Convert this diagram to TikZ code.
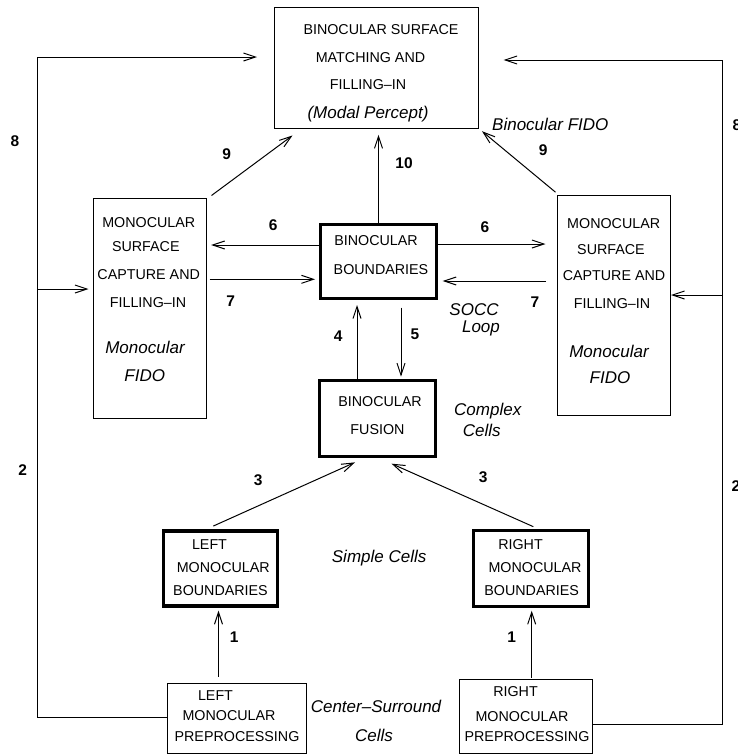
\documentclass[tikz,border=0pt]{standalone}
\usepackage{fontspec}
\setmainfont{Liberation Sans}
\usetikzlibrary{arrows.meta,calc}
\begin{document}
\begin{tikzpicture}[x=1pt,y=-1pt,
  thinbox/.style={draw,line width=1pt,inner sep=0pt},
  thickbox/.style={draw,line width=3.3pt,inner sep=0pt},
  captxt/.style={font=\fontsize{14.3}{16}\selectfont,inner sep=0pt,text height=10.2pt,text depth=0pt},
  itl/.style={font=\fontsize{17}{20}\selectfont\itshape,inner sep=0pt,text height=12.2pt,text depth=0pt},
  num/.style={font=\fontsize{15.5}{18}\selectfont\bfseries,inner sep=0pt,text height=11.1pt,text depth=0pt},
  arr/.style={line width=1pt,-{Straight Barb[length=12pt,width=8pt]}},
  ln/.style={line width=1pt}]
\fill[white] (0,0) rectangle (738,755);
\useasboundingbox (0,0) rectangle (738,755);

% boxes
\node[thinbox,minimum width=204pt,minimum height=121pt] (T) at (376.5,68) {};
\node[thinbox,minimum width=113pt,minimum height=220pt] (LM) at (150,308.5) {};
\node[thinbox,minimum width=113pt,minimum height=220pt] (RM) at (614,305.5) {};
\node[thickbox,minimum width=115.7pt,minimum height=73.7pt] (BB) at (378.5,261.5) {};
\node[thickbox,minimum width=115.7pt,minimum height=75.7pt] (BF) at (377.5,418.5) {};
\node[thickbox,minimum width=114.3pt,minimum height=75.1pt] (LB) at (220.5,568.5) {};
\node[thickbox,minimum width=114.7pt,minimum height=75.7pt] (RB) at (531,568.5) {};
\node[thinbox,minimum width=139.3pt,minimum height=70.3pt] (LP) at (236.8,718.3) {};
\node[thinbox,minimum width=132.7pt,minimum height=74pt] (RP) at (525.8,716.5) {};

% box texts
\node[captxt] (t1) at (381,29.7) {BINOCULAR SURFACE};
\node[captxt] (t2) at (370.5,57.3) {MATCHING AND};
\node[captxt] (t3) at (368,84.7) {FILLING–IN};
\node[itl] (t4) at (368,112) {(Modal Percept)};

\node[captxt] (lm1) at (148.8,222.8) {MONOCULAR};
\node[captxt] (lm2) at (145.8,246.3) {SURFACE};
\node[captxt] (lm3) at (148.7,274.7) {CAPTURE AND};
\node[captxt] (lm4) at (148,302.8) {FILLING–IN};
\node[itl] (lm5) at (145,347.7) {Monocular};
\node[itl] (lm6) at (144.7,375.5) {FIDO};

\node[captxt] (rm1) at (613.7,223.7) {MONOCULAR};
\node[captxt] (rm2) at (611,249.2) {SURFACE};
\node[captxt] (rm3) at (614,275.5) {CAPTURE AND};
\node[captxt] (rm4) at (612,303.8) {FILLING–IN};
\node[itl] (rm5) at (609,351.7) {Monocular};
\node[itl] (rm6) at (610,377.5) {FIDO};

\node[captxt] (bb1) at (376,240.8) {BINOCULAR};
\node[captxt] (bb2) at (381,269.2) {BOUNDARIES};
\node[captxt] (bf1) at (380,401.7) {BINOCULAR};
\node[captxt] (bf2) at (377.5,429) {FUSION};

\node[captxt] (lb1) at (209.5,544.2) {LEFT};
\node[captxt] (lb2) at (223.3,567.2) {MONOCULAR};
\node[captxt] (lb3) at (220.5,590) {BOUNDARIES};
\node[captxt] (rb1) at (520.5,544.2) {RIGHT};
\node[captxt] (rb2) at (535,567.2) {MONOCULAR};
\node[captxt] (rb3) at (531.7,590) {BOUNDARIES};

\node[captxt] (lp1) at (215.5,695) {LEFT};
\node[captxt] (lp2) at (229,715.3) {MONOCULAR};
\node[captxt] (lp3) at (237,736.3) {PREPROCESSING};
\node[captxt] (rp1) at (515.5,691.3) {RIGHT};
\node[captxt] (rp2) at (522,716) {MONOCULAR};
\node[captxt] (rp3) at (527,736) {PREPROCESSING};

% free labels
\node[itl,anchor=west] (binfido) at (492,124.3) {Binocular FIDO};
\node[itl] (socc) at (474,309.5) {SOCC};
\node[itl] (loop) at (481,326) {Loop};
\node[itl,anchor=west] (cx1) at (454,409.2) {Complex};
\node[itl,anchor=west] (cx2) at (462.7,430) {Cells};
\node[itl,anchor=west] (simple) at (331.7,556) {Simple Cells};
\node[itl] (cs1) at (376,706.7) {Center–Surround};
\node[itl] (cs2) at (374,735) {Cells};

% numbers
\node[num] (n8l) at (15,141) {8};
\node[num] (n9l) at (226.7,154.3) {9};
\node[num] (n10) at (404,162.7) {10};
\node[num] (n9r) at (543.3,150) {9};
\node[num,anchor=west] (n8r) at (732.5,125.3) {8};
\node[num] (n6l) at (273.3,225.3) {6};
\node[num] (n7l) at (230.7,300.7) {7};
\node[num] (n4) at (338.3,335.7) {4};
\node[num] (n5) at (415,334) {5};
\node[num] (n6r) at (485,226.7) {6};
\node[num] (n7r) at (535,301.7) {7};
\node[num] (n2l) at (22.7,470) {2};
\node[num] (n3l) at (258.3,480) {3};
\node[num] (n3r) at (483.3,477.3) {3};
\node[num] (n1l) at (234.3,636.7) {1};
\node[num] (n1r) at (511.7,636.7) {1};
\node[num,anchor=west] (n2r) at (731.3,486) {2};

% bus coordinates
\coordinate (topL) at (37.5,57);
\coordinate (busL) at (37.5,289);
\coordinate (topR) at (722.5,60);
\coordinate (busR) at (722.5,295);

% connectors
\draw[arr,shorten >=17pt] (LP.west |- 0,717) -| (topL) -- (T.west |- topL);
\draw[arr,shorten >=4.5pt] (busL) -- (LM.west |- busL);
\draw[arr,shorten >=24.5pt] (RP.east |- 0,724) -| (topR) -- (T.east |- topR);
\draw[arr] (busR) -- (RM.east |- busR);

\draw[arr] ([shift={(4.5,-2.5)}]LM.north east) -- ([shift={(18.5,6.5)}]T.south west);
\draw[arr] ([shift={(-1.5,-2.8)}]RM.north west) -- ([shift={(3,2.2)}]T.south east);
\draw[arr,shorten >=5.8pt] (BB.north) -- (T.south -| BB.north);

\draw[arr,shorten >=4.2pt] (BB.west |- 0,245) -- (LM.east |- 0,245);
\draw[arr,shorten <=2.5pt,shorten >=4pt] (LM.east |- 0,279.3) -- (BB.west |- 0,279.3);
\draw[arr,shorten >=11.5pt] (BB.east |- 0,244) -- (RM.west |- 0,244);
\draw[arr,shorten <=10.8pt,shorten >=4.6pt] (RM.west |- 0,281) -- (BB.east |- 0,281);

\draw[arr,shorten >=5pt] (BF.north -| 357,0) -- (BB.south -| 357,0);
\draw[arr,shorten <=7.6pt,shorten >=2.3pt] (BB.south -| 401,0) -- (BF.north -| 401,0);

\draw[arr] ([shift={(-7.2,-3.25)}]LB.north) -- ([shift={(-22.5,4.35)}]BF.south);
\draw[arr] ([shift={(2.3,-2.35)}]RB.north) -- ([shift={(14,5.65)}]BF.south);

\draw[arr,shorten <=5.8pt,shorten >=3pt] (LP.north -| 218.5,0) -- (LB.south -| 218.5,0);
\draw[arr,shorten <=1.5pt,shorten >=2.7pt] (RP.north -| 531.7,0) -- (RB.south -| 531.7,0);
\end{tikzpicture}
\end{document}
